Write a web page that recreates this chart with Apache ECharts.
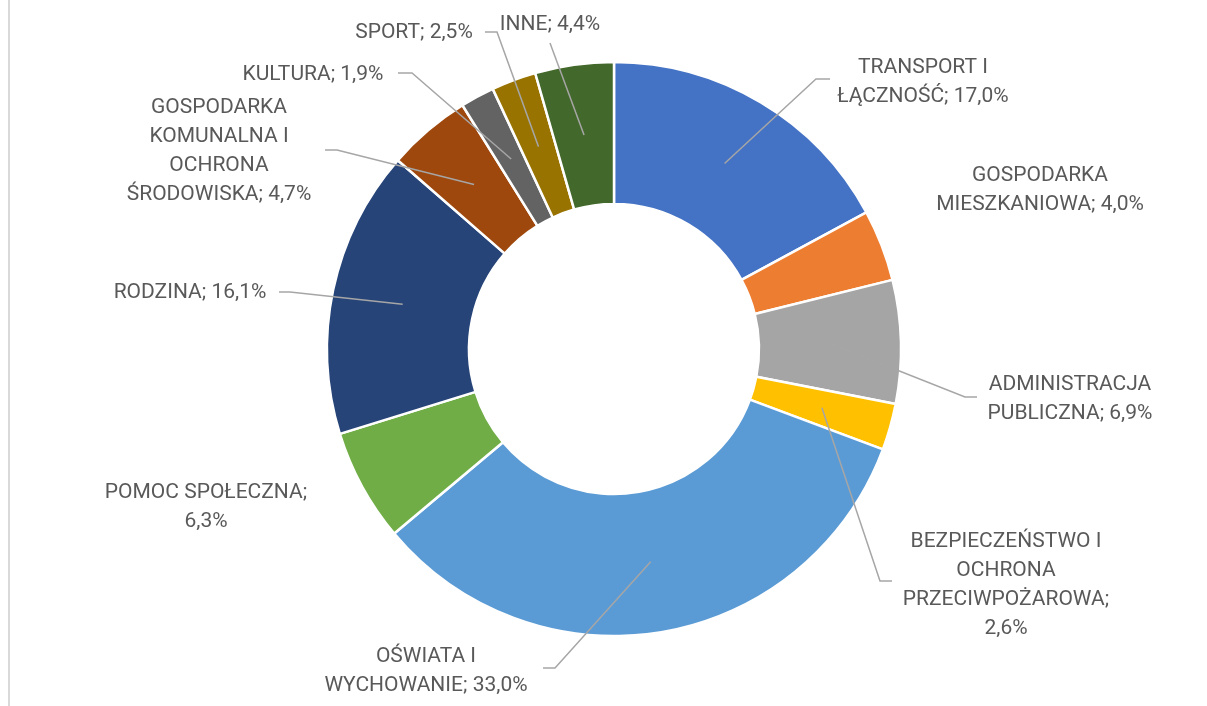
<!DOCTYPE html>
<html lang="pl">
<head>
    <meta charset="UTF-8">
    <title>Struktura wydatków</title>
    <script src="https://cdn.jsdelivr.net/npm/echarts@6/dist/echarts.min.js"></script>
    <style>
        body { margin: 0; background: #fff; }
        #wrap { position: relative; width: 1207px; height: 706px; }
        #edge { position: absolute; left: 8px; top: 0; width: 2px; height: 706px; background: #d9d9d9; }
        #chart { position: absolute; left: 0; top: 0; width: 1207px; height: 706px; }
    </style>
</head>
<body>
    <div id="wrap">
        <div id="edge"></div>
        <div id="chart"></div>
    </div>

    <script>
        // dane - udział procentowy
        const categories = [
            'TRANSPORT I ŁĄCZNOŚĆ', 'GOSPODARKA MIESZKANIOWA', 'ADMINISTRACJA PUBLICZNA',
            'BEZPIECZEŃSTWO I OCHRONA PRZECIWPOŻAROWA', 'OŚWIATA I WYCHOWANIE', 'POMOC SPOŁECZNA',
            'RODZINA', 'GOSPODARKA KOMUNALNA I OCHRONA ŚRODOWISKA', 'KULTURA', 'SPORT', 'INNE'
        ];
        const values = [17.0, 4.0, 6.9, 2.6, 33.0, 6.3, 16.1, 4.7, 1.9, 2.5, 4.4];
        const colors = ['#4472C4', '#ED7D31', '#A5A5A5', '#FFC000', '#5B9BD5', '#70AD47',
            '#264478', '#9E480E', '#636363', '#997300', '#43682B'];
        // teksty etykiet ({v} = wartość)
        const labelTexts = [
            'TRANSPORT I\nŁĄCZNOŚĆ; {v}', 'GOSPODARKA\nMIESZKANIOWA; {v}', 'ADMINISTRACJA\nPUBLICZNA; {v}',
            'BEZPIECZEŃSTWO I\nOCHRONA\nPRZECIWPOŻAROWA;\n{v}', 'OŚWIATA I\nWYCHOWANIE; {v}', 'POMOC SPOŁECZNA;\n{v}',
            'RODZINA; {v}', 'GOSPODARKA\nKOMUNALNA I\nOCHRONA\nŚRODOWISKA; {v}', 'KULTURA; {v}', 'SPORT; {v}', 'INNE; {v}'
        ];

        // układ: środek, promienie, pozycje etykiet i załamania linii
        const cx = 614, cy = 349, rIn = 145, rOut = 287;
        const labelPos = [[923, 82], [1040, 190], [1070, 399], [1006, 585], [426, 671], [206, 507],
            [190, 293], [219, 151], [313, 75], [414, 33], [550, 25]];
        const lineBends = [
            [[816, 79], [830, 79]], null, [[965, 397], [977, 397]], [[880, 581], [892, 581]],
            [[555, 668], [543, 668]], null, [[290, 292], [279, 292]], [[337, 150], [325, 150]],
            [[412, 73], [398, 73]], [[497, 32], [485, 32]], [[550, 43]]
        ];

        const total = values.reduce((a, b) => a + b, 0);
        const midAngles = [];
        let acc = 0;
        values.forEach(v => {
            midAngles.push((acc + v / 2) / total * Math.PI * 2);
            acc += v;
        });

        const fmt = v => v.toFixed(1).replace('.', ',') + '%';

        const chart = echarts.init(document.getElementById('chart'));
        chart.setOption({
            animation: false,
            series: [{
                // pierścień
                type: 'pie',
                center: [cx, cy],
                radius: [rIn, rOut],
                startAngle: 90,
                silent: true,
                itemStyle: { borderColor: '#fff', borderWidth: 2.5 },
                label: { show: false },
                labelLine: { show: false },
                data: values.map((v, i) => ({
                    name: categories[i],
                    value: v,
                    itemStyle: { color: colors[i] }
                }))
            }, {
                // etykiety i linie odniesienia nad pierścieniem
                type: 'pie',
                z: 3,
                center: [cx, cy],
                radius: [rIn, rOut],
                startAngle: 90,
                silent: true,
                avoidLabelOverlap: false,
                itemStyle: { color: 'rgba(0,0,0,0)', borderWidth: 0 },
                label: {
                    show: true,
                    position: 'outside',
                    color: '#595959',
                    fontFamily: 'Roboto',
                    fontSize: 21,
                    lineHeight: 29,
                    overflow: 'none',
                    formatter: p => labelTexts[p.dataIndex].replace('{v}', fmt(p.value))
                },
                labelLine: {
                    show: true,
                    lineStyle: { color: '#a6a6a6', width: 1.5 }
                },
                labelLayout: function (p) {
                    const i = p.dataIndex;
                    const res = { x: labelPos[i][0], y: labelPos[i][1], align: 'center', verticalAlign: 'middle' };
                    if (lineBends[i]) {
                        const rMid = (rIn + rOut) / 2;
                        const a = midAngles[i];
                        res.labelLinePoints = [[cx + rMid * Math.sin(a), cy - rMid * Math.cos(a)]].concat(lineBends[i]);
                    }
                    return res;
                },
                data: values.map((v, i) => ({
                    name: categories[i],
                    value: v,
                    labelLine: { show: lineBends[i] !== null }
                }))
            }]
        });
    </script>
</body>
</html>
